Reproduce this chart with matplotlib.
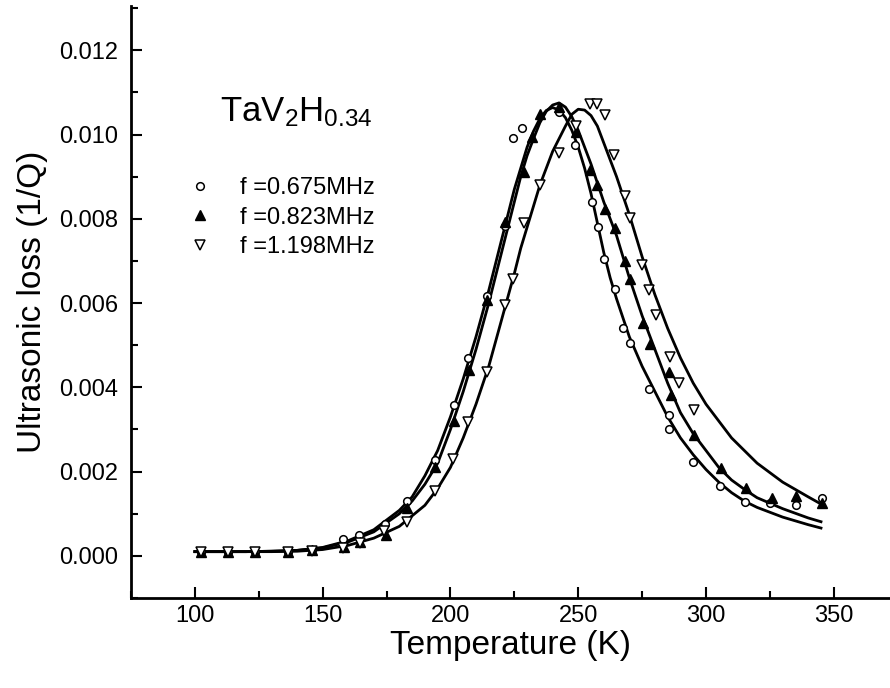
import numpy as np
import matplotlib
matplotlib.use("Agg")
import matplotlib.pyplot as plt
from matplotlib.ticker import MultipleLocator

plt.rcParams['font.family'] = ['Liberation Sans', 'DejaVu Sans']
plt.rcParams['mathtext.fontset'] = 'custom'
plt.rcParams['mathtext.rm'] = 'Liberation Sans'
plt.rcParams['mathtext.it'] = 'Liberation Sans'

# measured points, f = 0.675 MHz (open circles)
t_675 = [102.3, 112.8, 123.4, 136.4, 146, 158, 164.3, 174.2, 183, 194, 201.2, 206.8,
         214.3, 221.5, 224.5, 228.1, 242.3, 248.8, 255.3, 257.6, 260.2, 264.5, 267.7,
         270.3, 277.7, 285.5, 285.7, 295, 305.3, 315.2, 325.2, 335.4, 345.2]
q_675 = [0.0001, 0.0001, 0.0001, 0.0001, 0.00015, 0.0004, 0.0005, 0.00076, 0.0013,
         0.00227, 0.00358, 0.0047, 0.00616, 0.00783, 0.00992, 0.01015, 0.01053, 0.00976,
         0.0084, 0.0078, 0.00704, 0.00634, 0.0054, 0.00505, 0.00395, 0.00334, 0.003,
         0.00222, 0.00165, 0.00127, 0.00125, 0.00121, 0.00137]

# f = 0.823 MHz (filled up triangles)
t_823 = [102.3, 112.8, 123.4, 136.4, 146, 158.3, 164.8, 174.6, 183, 193.8, 201.3, 207.1,
         214.3, 221.5, 228.7, 231.8, 235.2, 242.3, 249, 254.6, 257.5, 260.5, 264.4, 268.4,
         270.3, 275.2, 277.9, 285.4, 286.2, 295.4, 305.7, 315.6, 325.7, 335.4, 345.2]
q_823 = [0.0001, 0.0001, 0.0001, 0.0001, 0.00015, 0.00022, 0.00034, 0.0005, 0.00113,
         0.00212, 0.0032, 0.00441, 0.00607, 0.00792, 0.0091, 0.00995, 0.01048, 0.01065,
         0.01005, 0.00915, 0.0088, 0.00824, 0.00777, 0.007, 0.00656, 0.00553, 0.00504,
         0.00437, 0.00382, 0.00288, 0.00208, 0.00162, 0.00137, 0.00141, 0.00125]

# f = 1.198 MHz (open down triangles)
t_1198 = [102.3, 112.8, 123.4, 136.4, 146, 158, 164.5, 174.1, 183, 193.8, 201, 206.8,
          214.3, 221.5, 224.5, 228.6, 235.2, 242.3, 249.2, 254.7, 257.3, 260.5, 264.1,
          268.3, 270.1, 275, 277.5, 280.5, 286, 289.5, 295.2]
q_1198 = [0.0001, 0.0001, 0.0001, 0.0001, 0.00012, 0.00018, 0.0003, 0.0006, 0.00081,
          0.00155, 0.00229, 0.00318, 0.00437, 0.00595, 0.00658, 0.0079, 0.0088, 0.00955,
          0.0102, 0.01073, 0.01073, 0.01047, 0.00952, 0.00854, 0.00803, 0.0069, 0.00632,
          0.00571, 0.00472, 0.00411, 0.00345]

# fitted curves
fit_t = [100, 110, 120, 130, 140, 150, 160, 170, 180, 185, 190, 195, 200, 205, 210, 215,
         220, 225, 227.5, 230, 232.5, 235, 237.5, 240, 242.5, 245, 247.5, 250, 252.5,
         255, 257.5, 260, 262.5, 265, 270, 275, 280, 285, 290, 295, 300, 305, 310, 315,
         320, 330, 340, 345]
fit_675 = [0.0001, 0.0001, 0.0001, 0.00011, 0.00013, 0.0002, 0.00036, 0.00062, 0.00108,
           0.0014, 0.0019, 0.0025, 0.0033, 0.0042, 0.0052, 0.0063, 0.0075, 0.0087,
           0.0092, 0.0097, 0.01008, 0.01038, 0.01057, 0.01064, 0.01058, 0.0104, 0.0101,
           0.0097, 0.0092, 0.0086, 0.0079, 0.0072, 0.0066, 0.0061, 0.0052, 0.0045,
           0.0039, 0.0033, 0.0028, 0.0024, 0.00205, 0.00175, 0.0015, 0.0013, 0.00115,
           0.00092, 0.00074, 0.00066]
fit_823 = [0.0001, 0.0001, 0.0001, 0.00011, 0.00013, 0.00019, 0.00033, 0.00057, 0.001,
           0.0013, 0.0017, 0.0022, 0.003, 0.0039, 0.0049, 0.006, 0.0072, 0.0084, 0.009,
           0.0095, 0.0099, 0.01028, 0.01055, 0.0107, 0.01075, 0.01065, 0.01042, 0.0101,
           0.0097, 0.0093, 0.00885, 0.0084, 0.008, 0.0076, 0.0066, 0.0057, 0.0049,
           0.0041, 0.0034, 0.0029, 0.0025, 0.0021, 0.0018, 0.00158, 0.00138, 0.00112,
           0.0009, 0.00081]
fit_1198 = [0.0001, 0.0001, 0.0001, 0.0001, 0.00011, 0.00015, 0.00025, 0.00042, 0.0007,
            0.00095, 0.0012, 0.0016, 0.0021, 0.0028, 0.0036, 0.0045, 0.0056, 0.0067,
            0.0073, 0.0078, 0.0083, 0.0088, 0.0092, 0.0096, 0.0099, 0.0102, 0.01048,
            0.0106, 0.01058, 0.01045, 0.0102, 0.0098, 0.0094, 0.009, 0.0081, 0.0071,
            0.0062, 0.0054, 0.0047, 0.0041, 0.0036, 0.0032, 0.0028, 0.0025, 0.0022,
            0.00175, 0.0014, 0.00123]

fig = plt.figure(figsize=(8.9, 6.88), dpi=100)
ax = fig.add_axes([131/890, 90/688, 759/890, 592/688])

for fq in (fit_675, fit_823, fit_1198):
    ax.plot(fit_t, fq, color='black', lw=2, zorder=2)

ax.plot(t_675, q_675, 'o', ms=5.5, mfc='white', mec='black', mew=1.1, ls='none',
        label='f =0.675MHz', zorder=3)
ax.plot(t_823, q_823, '^', ms=6.5, mfc='black', mec='black', ls='none',
        label='f =0.823MHz', zorder=3)
ax.plot(t_1198, q_1198, 'v', ms=6.5, mfc='white', mec='black', mew=1.1, ls='none',
        label='f =1.198MHz', zorder=3)

ax.set_xlim(75, 372)
ax.set_ylim(-0.001, 0.01305)
ax.xaxis.set_major_locator(MultipleLocator(50))
ax.xaxis.set_minor_locator(MultipleLocator(25))
ax.yaxis.set_major_locator(MultipleLocator(0.002))
ax.yaxis.set_minor_locator(MultipleLocator(0.001))
ax.yaxis.set_major_formatter(matplotlib.ticker.FormatStrFormatter('%.3f'))

for s in ('top', 'right'):
    ax.spines[s].set_visible(False)
for s in ('left', 'bottom'):
    ax.spines[s].set_linewidth(2)
ax.tick_params(which='both', direction='in', width=1.5, labelsize=17)
ax.tick_params(which='major', length=8)
ax.tick_params(which='minor', length=5)
ax.tick_params(axis='y', pad=9)
ax.tick_params(axis='x', pad=5)

ax.set_xlabel('Temperature (K)', fontsize=24, labelpad=2)
ax.set_ylabel('Ultrasonic loss (1/Q)', fontsize=24, labelpad=8)

fig.text(220/890, 1 - 112/688, r'TaV$_2$H$_{0.34}$', fontsize=25, va='center', ha='left')

ax.legend(loc='upper left', bbox_to_anchor=(186/890, 1 - 177/688),
          bbox_transform=fig.transFigure, frameon=False, fontsize=17,
          handlelength=1.2, handletextpad=1.1, labelspacing=0.32, borderpad=0,
          borderaxespad=0)

fig.savefig('out.png', dpi=100)
